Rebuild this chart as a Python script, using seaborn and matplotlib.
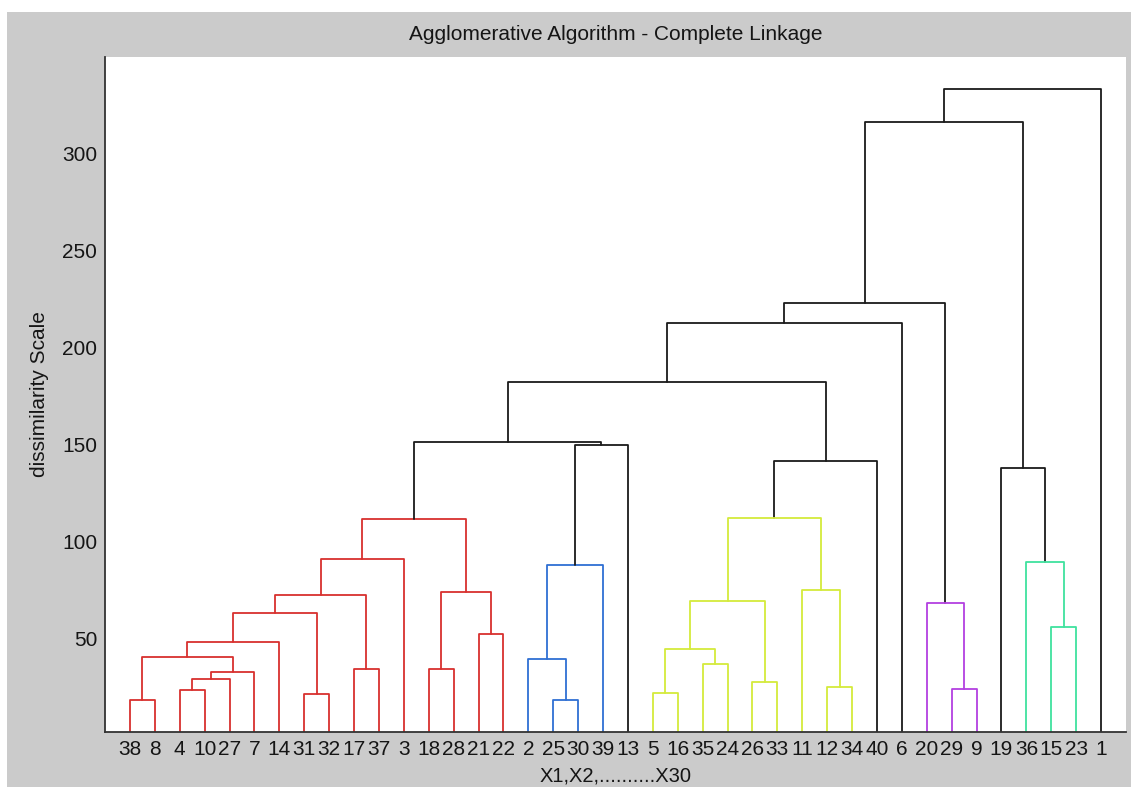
import matplotlib
matplotlib.use("Agg")
import numpy as np
import pandas as pd
import matplotlib.pyplot as plt
import seaborn as sns
from matplotlib.patches import Rectangle

# Leaf order along the x axis (observation numbers)
leaf_order = [38, 8, 4, 10, 27, 7, 14, 31, 32, 17, 37, 3, 18, 28, 21, 22,
              2, 25, 30, 39, 13, 5, 16, 35, 24, 26, 33, 11, 12, 34, 40,
              6, 20, 29, 9, 19, 36, 15, 23, 1]

# Linkage table: leaves are 1..40, merged clusters are numbered 41, 42, ...
link_left = [38, 4, 42, 43, 41, 45, 31, 46, 17, 48, 50, 18, 21, 52, 51,
             25, 2, 57, 58, 55,
             5, 35, 61, 26, 63, 12, 11, 65, 68, 60, 70,
             29, 20, 71,
             15, 36, 19, 74, 78]
link_right = [8, 10, 27, 7, 44, 14, 32, 47, 37, 49, 3, 28, 22, 53, 54,
              30, 56, 39, 13, 59,
              16, 24, 62, 33, 64, 34, 66, 67, 40, 69, 6,
              9, 72, 73,
              23, 75, 76, 77, 1]
link_height = [18.3, 23.4, 29.3, 32.7, 40.6, 48.1, 21.7, 63.2, 34.4, 72.6,
               91.2, 34.4, 52.2, 74.3, 111.6,
               18.3, 39.6, 88.1, 149.6, 151.5,
               22.1, 37.0, 44.7, 27.6, 69.6, 25.3, 75.2, 112.1, 141.5,
               182.3, 212.6,
               24.2, 68.4, 222.8,
               55.8, 89.6, 137.8, 315.8, 333.1]

y_ticks = [50, 100, 150, 200, 250, 300]

color_threshold = 120
cluster_colors = ["#d8302e", "#2f6fd3", "#d4ea3c", "#b340e0", "#3fe29e"]
upper_color = "#1a1a1a"

n_leaves = len(leaf_order)

# Node coordinates, as in a standard dendrogram layout
xpos = {leaf: i + 1 for i, leaf in enumerate(leaf_order)}
ypos = {leaf: 0.0 for leaf in leaf_order}
parent = {}
for k, (a, b, h) in enumerate(zip(link_left, link_right, link_height)):
    node = n_leaves + 1 + k
    xpos[node] = (xpos[a] + xpos[b]) / 2.0
    ypos[node] = h
    parent[a] = node
    parent[b] = node

# Clusters: highest links that stay below the threshold
nodes = [n_leaves + 1 + k for k in range(len(link_height))]
roots = [nd for nd in nodes
         if ypos[nd] < color_threshold
         and (nd not in parent or ypos[parent[nd]] >= color_threshold)]
roots.sort(key=lambda nd: xpos[nd])
root_color = {nd: f"c{i}" for i, nd in enumerate(roots)}


def group_of(nd):
    if ypos[nd] >= color_threshold:
        return "upper"
    while nd in parent and ypos[parent[nd]] < color_threshold:
        nd = parent[nd]
    return root_color[nd]


rows = []
for k, (a, b, h) in enumerate(zip(link_left, link_right, link_height)):
    node = n_leaves + 1 + k
    g = group_of(node)
    pts = [(xpos[a], ypos[a]), (xpos[a], h), (xpos[b], h), (xpos[b], ypos[b])]
    for j, (x, y) in enumerate(pts):
        rows.append({"link": node, "step": j, "x": x, "y": y, "group": g})
segments = pd.DataFrame(rows)

palette = {f"c{i}": cluster_colors[i] for i in range(len(roots))}
palette["upper"] = upper_color

sns.set_theme(style="white")
plt.rcParams["font.family"] = ["Liberation Sans", "DejaVu Sans"]

W, H = 1131, 787
fig = plt.figure(figsize=(W / 100, H / 100), dpi=100, facecolor="white")
fig.patches.append(Rectangle((7 / W, 0), 1, 1 - 12 / H, transform=fig.transFigure,
                             facecolor="#cbcbcb", edgecolor="none", zorder=-10))

ax = fig.add_axes([105 / W, 55 / H, 1021 / W, 675 / H])
ax.set_facecolor("white")

sns.lineplot(data=segments, x="x", y="y", units="link", hue="group",
             palette=palette, estimator=None, sort=False, legend=False,
             linewidth=1.3, ax=ax)

ax.set_xlim(0, n_leaves + 1)
ax.set_ylim(2, 349.5)

ax.set_xticks(range(1, n_leaves + 1))
ax.set_xticklabels([str(v) for v in leaf_order])
ax.set_yticks(y_ticks)
ax.set_yticklabels([str(v) for v in y_ticks])

ax.tick_params(axis="x", length=0, pad=6, labelsize=15, labelcolor="#151515")
ax.tick_params(axis="y", direction="in", length=6.5, width=1.2, pad=5.5,
               labelsize=15, color="#333333", labelcolor="#151515")

sns.despine(ax=ax)
for side in ("left", "bottom"):
    ax.spines[side].set_color("#333333")
    ax.spines[side].set_linewidth(1.3)

ax.set_title("Agglomerative Algorithm - Complete Linkage", fontsize=15,
             color="#151515", pad=12)
ax.set_xlabel("X1,X2,..........X30", fontsize=14.5, color="#151515")
ax.set_ylabel("dissimilarity Scale", fontsize=15, color="#151515")
ax.xaxis.set_label_coords(0.5, -35 / 675)
ax.yaxis.set_label_coords(-56 / 1021, 0.5)

fig.savefig("out.png", dpi=100, facecolor=fig.get_facecolor())
